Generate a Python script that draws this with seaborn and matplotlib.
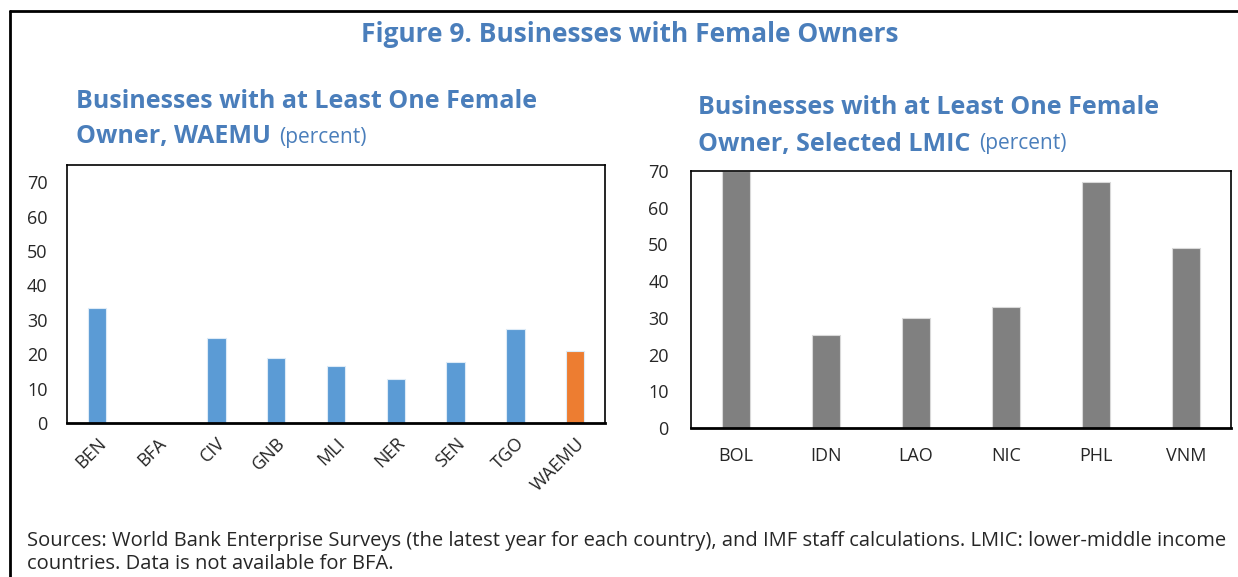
import numpy as np
import pandas as pd
import matplotlib
matplotlib.use("Agg")
import matplotlib.pyplot as plt
import seaborn as sns
from matplotlib.lines import Line2D

# Data
waemu_countries = ["BEN", "BFA", "CIV", "GNB", "MLI", "NER", "SEN", "TGO", "WAEMU"]
waemu_values = [33.5, np.nan, 24.6, 18.8, 16.5, 12.9, 17.6, 27.4, 20.8]
waemu_colors = ["#5B9BD5"] * 8 + ["#ED7D31"]

lmic_countries = ["BOL", "IDN", "LAO", "NIC", "PHL", "VNM"]
lmic_values = [69.9, 25.4, 29.9, 33.0, 67.1, 49.0]

title_color = "#4A7EBB"

sns.set_style("white")
plt.rcParams["font.family"] = ["Open Sans", "DejaVu Sans"]

fig = plt.figure(figsize=(12.38, 5.77), dpi=100)

# outer frame (left and top edges visible)
fig.add_artist(Line2D([0.008, 0.008], [0, 0.981], transform=fig.transFigure, color="black", lw=2))
fig.add_artist(Line2D([0.008, 1.0], [0.981, 0.981], transform=fig.transFigure, color="black", lw=2))

# left panel
ax1 = fig.add_axes([67 / 1238, 1 - 423 / 577, 538 / 1238, 258 / 577])
df1 = pd.DataFrame({"country": waemu_countries, "value": waemu_values})
sns.barplot(data=df1, x="country", y="value", hue="country", palette=waemu_colors,
            width=0.31, legend=False, ax=ax1, saturation=1, edgecolor="#DDEBF7", linewidth=0.8)
ax1.set_ylim(0, 75)
ax1.set_yticks(range(0, 71, 10))
ax1.set_xlabel("")
ax1.set_ylabel("")
ax1.tick_params(axis="y", labelsize=13, length=0, pad=14)
ax1.tick_params(axis="x", labelsize=13, length=0, pad=8)
for lbl in ax1.get_xticklabels():
    lbl.set_rotation(45)
    lbl.set_ha("right")
    lbl.set_rotation_mode("anchor")
for s in ax1.spines.values():
    s.set_visible(True)
    s.set_color("black")
    s.set_linewidth(1.2)
ax1.spines["bottom"].set_linewidth(2)

# right panel
ax2 = fig.add_axes([691 / 1238, 1 - 428 / 577, 540 / 1238, 257 / 577])
df2 = pd.DataFrame({"country": lmic_countries, "value": lmic_values})
sns.barplot(data=df2, x="country", y="value", color="#808080", width=0.31,
            ax=ax2, saturation=1, edgecolor="#D9D9D9", linewidth=0.8)
ax2.set_ylim(0, 70)
ax2.set_yticks(range(0, 71, 10))
ax2.set_xlabel("")
ax2.set_ylabel("")
ax2.tick_params(axis="y", labelsize=13, length=0, pad=16)
ax2.tick_params(axis="x", labelsize=13, length=0, pad=14)
for s in ax2.spines.values():
    s.set_visible(True)
    s.set_color("black")
    s.set_linewidth(1.2)
ax2.spines["bottom"].set_linewidth(2)

# titles
fig.text(630 / 1238, 1 - 35 / 577, "Figure 9. Businesses with Female Owners", ha="center", va="center",
         fontsize=19, fontweight="bold", color=title_color)


def two_part(x, y, bold, normal):
    t = fig.text(x, y, bold, ha="left", va="center", fontsize=18, fontweight="bold", color=title_color)
    fig.canvas.draw()
    bb = t.get_window_extent().transformed(fig.transFigure.inverted())
    fig.text(bb.x1 + 0.007, y, normal, ha="left", va="center", fontsize=15, color=title_color)


fig.text(76 / 1238, 1 - 101 / 577, "Businesses with at Least One Female", ha="left", va="center",
         fontsize=18, fontweight="bold", color=title_color)
two_part(76 / 1238, 1 - 137 / 577, "Owner, WAEMU", "(percent)")
fig.text(698 / 1238, 1 - 107 / 577, "Businesses with at Least One Female", ha="left", va="center",
         fontsize=18, fontweight="bold", color=title_color)
two_part(698 / 1238, 1 - 144 / 577, "Owner, Selected LMIC", "(percent)")

# footnote
fig.text(27 / 1238, 1 - 541 / 577,
         "Sources: World Bank Enterprise Surveys (the latest year for each country), and IMF staff calculations. LMIC: lower-middle income",
         ha="left", va="center", fontsize=14.5)
fig.text(27 / 1238, 1 - 564 / 577, "countries. Data is not available for BFA.",
         ha="left", va="center", fontsize=14.5)

fig.savefig("out.png", dpi=100)
